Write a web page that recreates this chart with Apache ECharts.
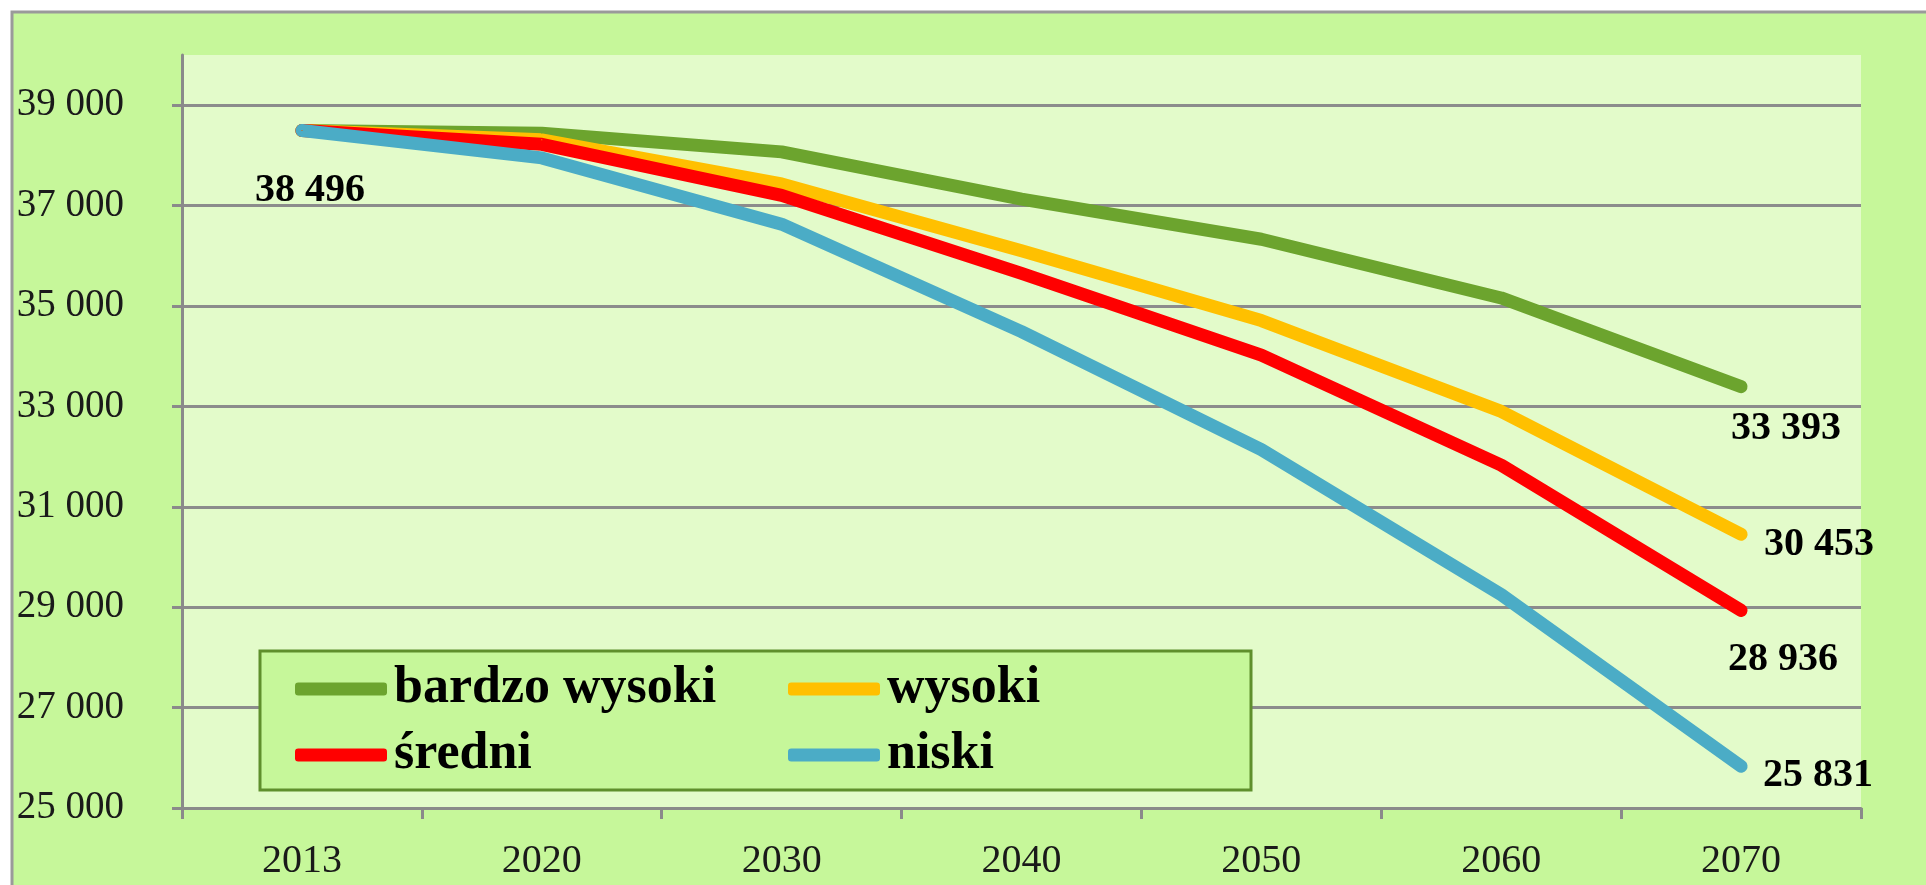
<!DOCTYPE html>
<html>
<head>
<meta charset="utf-8">
<script src="https://cdn.jsdelivr.net/npm/echarts@6/dist/echarts.min.js"></script>
<style>
  html, body { margin: 0; padding: 0; background: #fff; }
  #chart { width: 1926px; height: 885px; }
</style>
</head>
<body>
<div id="chart"></div>
<script>
const years = ['2013', '2020', '2030', '2040', '2050', '2060', '2070'];
const seriesNames = ['bardzo wysoki', 'wysoki', 'średni', 'niski'];
const bardzoWysoki = [38496, 38440, 38070, 37130, 36330, 35160, 33393];
const wysoki = [38496, 38310, 37430, 36100, 34710, 32900, 30453];
const sredni = [38496, 38220, 37205, 35650, 34020, 31830, 28936];
const niski = [38496, 37950, 36630, 34490, 32140, 29250, 25831];
const yMin = 25000, yMax = 40000, yStep = 2000;

const values = [bardzoWysoki, wysoki, sredni, niski];
const colors = ['#6ca42e', '#ffc000', '#ff0000', '#4bacc6'];
// where the end value labels sit relative to the last point
const endOffsets = [[45, 42], [78, 10], [42, 49], [77, 9]];
const serif = '"Liberation Serif", "Times New Roman", serif';

const fmt = v => String(v).replace(/\B(?=(\d{3})+(?!\d))/g, ' ');

const chart = echarts.init(document.getElementById('chart'));

const labelStyle = (offset) => ({
  show: true,
  position: 'inside',
  offset: offset,
  fontFamily: serif,
  fontWeight: 'bold',
  fontSize: 40,
  color: '#000',
  formatter: p => fmt(p.value)
});

const series = seriesNames.map((name, i) => ({
  name: name,
  type: 'line',
  symbol: 'circle',
  symbolSize: 1,
  itemStyle: { color: colors[i] },
  lineStyle: { width: 13, color: colors[i], cap: 'round', join: 'round' },
  emphasis: { disabled: true },
  data: values[i].map((v, j) => {
    if (j === values[i].length - 1) return { value: v, label: labelStyle(endOffsets[i]) };
    if (j === 0 && i === values.length - 1) return { value: v, label: labelStyle([8, 60]) };
    return v;
  })
}));

chart.setOption({
  backgroundColor: '#ffffff',
  animation: false,
  graphic: [{
    type: 'rect',
    z: -10,
    shape: { x: 12, y: 12, width: 1960, height: 920 },
    style: { fill: '#c6f79a', stroke: '#9a9a9a', lineWidth: 3 }
  }],
  grid: {
    left: 182, right: 65, top: 55, bottom: 77,
    show: true, backgroundColor: '#e3fbca', borderWidth: 0
  },
  legend: {
    left: 260, top: 651,
    width: 860,
    orient: 'horizontal',
    itemGap: 14,
    itemWidth: 92,
    itemHeight: 13,
    icon: 'roundRect',
    padding: [12, 114, 9, 35],
    backgroundColor: '#c6f79a',
    borderColor: '#5f8f2c',
    borderWidth: 3,
    borderRadius: 0,
    textStyle: {
      fontFamily: serif, fontWeight: 'bold', fontSize: 52,
      color: '#000', width: 380, lineHeight: 50, padding: [0, 0, 0, 2]
    },
    data: seriesNames.map((n, i) => i % 2 === 1 ? { name: n, textStyle: { width: 250 } } : { name: n })
  },
  xAxis: {
    type: 'category',
    data: years,
    boundaryGap: true,
    axisLine: { lineStyle: { color: '#8a8a8a', width: 3 } },
    axisTick: { show: true, length: 11, lineStyle: { color: '#8a8a8a', width: 3 } },
    axisLabel: { margin: 33, fontFamily: serif, fontSize: 40, color: '#1a1a1a' }
  },
  yAxis: {
    type: 'value',
    min: yMin, max: yMax, interval: yStep,
    axisLine: { show: true, lineStyle: { color: '#8a8a8a', width: 3 } },
    axisTick: { show: true, length: 10, lineStyle: { color: '#8a8a8a', width: 3 } },
    axisLabel: {
      margin: 58, showMaxLabel: false,
      fontFamily: serif, fontSize: 39, color: '#1a1a1a',
      formatter: v => fmt(v)
    },
    splitLine: { show: true, showMaxLine: false, lineStyle: { color: '#8c8c8c', width: 3 } }
  },
  series: series
});
</script>
</body>
</html>
